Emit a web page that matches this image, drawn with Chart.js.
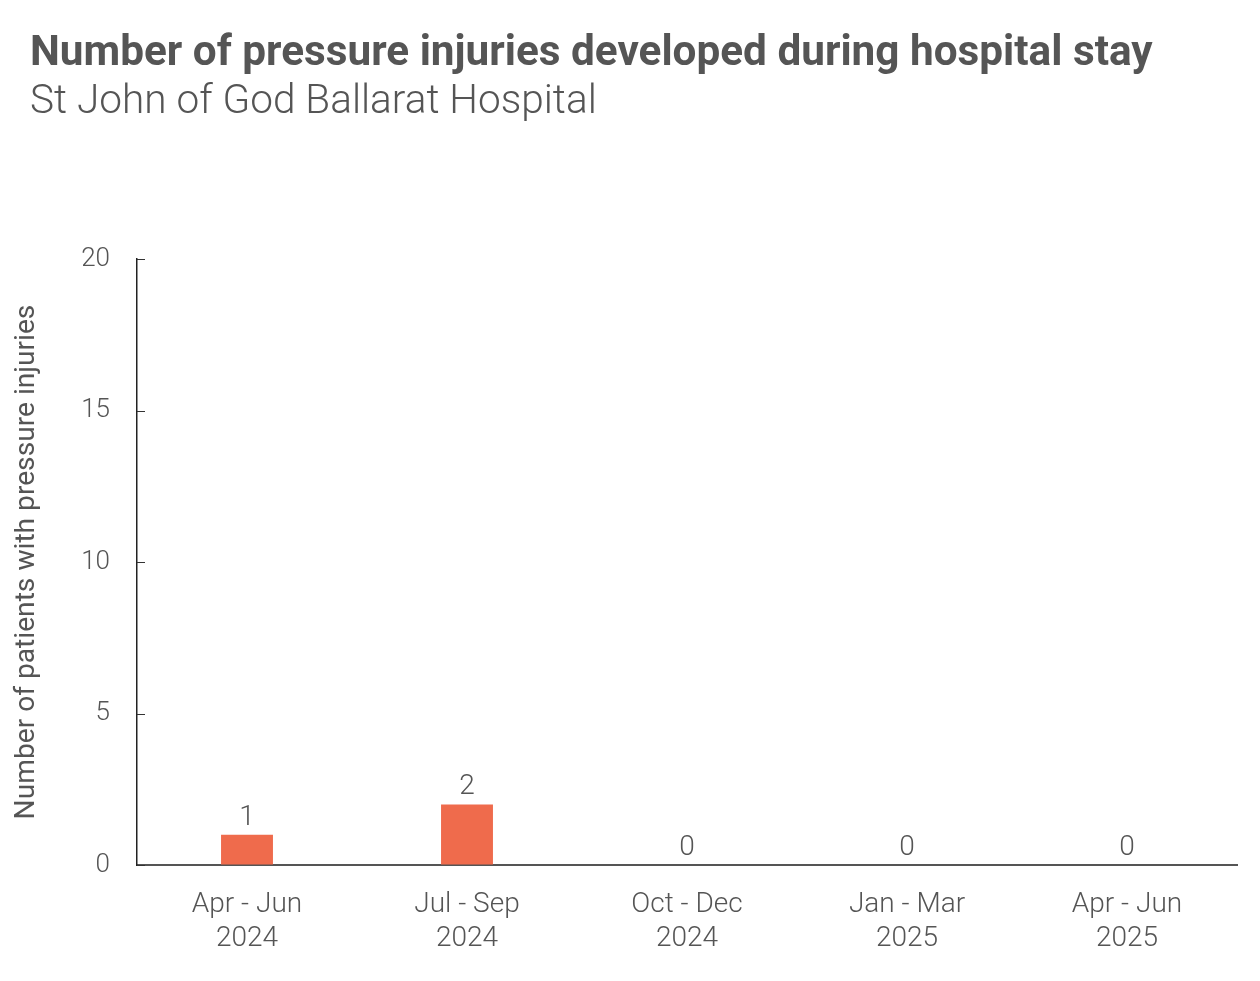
<!DOCTYPE html>
<html><head><meta charset="utf-8">
<script src="https://cdn.jsdelivr.net/npm/chart.js@4.4.1/dist/chart.umd.min.js"></script>
<style>html,body{margin:0;padding:0;background:#fff;}#wrap{width:1260px;height:981px;}</style>
</head><body><div id="wrap"><canvas id="c" width="1260" height="981"></canvas></div>
<script>
const categories = [["Apr - Jun","2024"],["Jul - Sep","2024"],["Oct - Dec","2024"],["Jan - Mar","2025"],["Apr - Jun","2025"]];
const values = [1, 2, 0, 0, 0];
const yTicks = [0, 5, 10, 15, 20];
const titleText = "Number of pressure injuries developed during hospital stay";
const subtitleText = "St John of God Ballarat Hospital";
const yAxisTitle = "Number of patients with pressure injuries";

const FAMILY = "Roboto, 'Open Sans', sans-serif";
const TEXT = '#555555';
const BAR = '#EF6B4C';

function fitSize(text, weight, target){
  const ctx = document.createElement('canvas').getContext('2d');
  ctx.font = weight + ' 100px ' + FAMILY;
  return 100 * target / ctx.measureText(text).width;
}
const s1 = fitSize(titleText, 'bold', 1123);
const s2 = fitSize(subtitleText, '300', 567);
const s3 = fitSize(yAxisTitle, 'normal', 515);
const T1 = 54 - 0.6 * s1;
const T2 = 102.5 - 0.6 * s2 - (T1 + 1.2 * s1);
const B2 = 259 - 102.5 - 0.6 * s2;

const extras = {
  id: 'extras',
  afterDatasetsDraw(chart){
    const ctx = chart.ctx;
    const y = chart.scales.y;
    const area = chart.chartArea;
    ctx.save();
    ctx.strokeStyle = '#333';
    ctx.lineWidth = 1;
    yTicks.forEach(v => {
      const py = Math.round(y.getPixelForValue(v)) + 0.5;
      ctx.beginPath();
      ctx.moveTo(area.left, py);
      ctx.lineTo(area.left + 8, py);
      ctx.stroke();
    });
    ctx.fillStyle = TEXT;
    ctx.font = '300 28px ' + FAMILY;
    ctx.textAlign = 'center';
    ctx.textBaseline = 'alphabetic';
    const meta = chart.getDatasetMeta(0);
    meta.data.forEach((bar, i) => {
      ctx.fillText(String(values[i]), bar.x, bar.y - 10);
    });
    ctx.restore();
  }
};

new Chart(document.getElementById('c'), {
  type: 'bar',
  data: {
    labels: categories,
    datasets: [{ data: values, backgroundColor: BAR, borderWidth: 0, barPercentage: 0.236, categoryPercentage: 1 }]
  },
  plugins: [extras],
  options: {
    responsive: false,
    animation: false,
    devicePixelRatio: 1,
    layout: { padding: { left: 30, right: 23, top: 0, bottom: 0 } },
    plugins: {
      legend: { display: false },
      tooltip: { enabled: false },
      title: { display: true, text: titleText, align: 'start', color: TEXT,
        font: { family: FAMILY, size: s1, weight: 'bold', lineHeight: 1.2 }, padding: { top: T1, bottom: 0 } },
      subtitle: { display: true, text: subtitleText, align: 'start', color: TEXT,
        font: { family: FAMILY, size: s2, weight: '300', lineHeight: 1.2 }, padding: { top: T2, bottom: B2 } }
    },
    scales: {
      x: {
        grid: { display: true, drawOnChartArea: false, drawTicks: false },
        border: { display: true, color: '#555', width: 2 },
        ticks: { color: TEXT, font: { family: FAMILY, size: 28, weight: '300', lineHeight: 1.22 }, padding: 23, maxRotation: 0, autoSkip: false },
        afterFit(scale){ scale.height = 116; }
      },
      y: {
        min: 0, max: 20,
        grid: { display: true, drawOnChartArea: false, drawTicks: false },
        border: { display: true, color: '#222', width: 1.5 },
        ticks: { stepSize: 5, color: TEXT, font: { family: FAMILY, size: 26, weight: '300' }, padding: 27 },
        title: { display: true, text: yAxisTitle, color: TEXT, font: { family: FAMILY, size: s3, lineHeight: 1.2 }, padding: { top: -3 - 0.6 * s3, bottom: 0 } },
        afterFit(scale){ scale.width = 107; }
      }
    }
  }
});
</script></body></html>
